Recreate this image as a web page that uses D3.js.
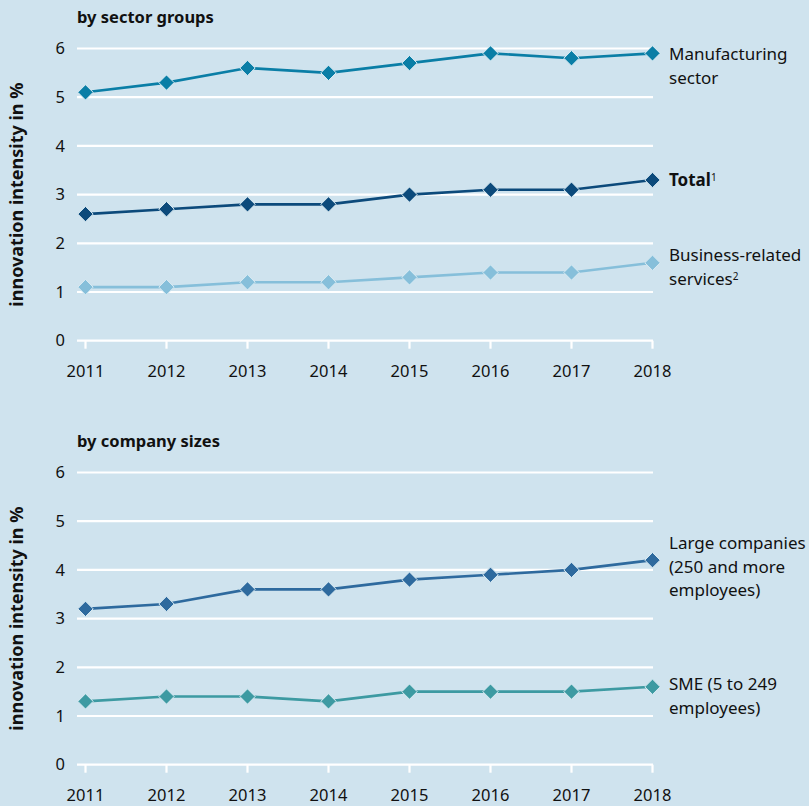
<!DOCTYPE html>
<html>
<head>
<meta charset="utf-8">
<script src="https://cdn.jsdelivr.net/npm/d3@7"></script>
<style>
  html, body { margin: 0; padding: 0; background: #cfe3ee; }
  svg { display: block; font-family: "Noto Sans", "Open Sans", sans-serif; }
</style>
</head>
<body>
<svg id="chart" width="809" height="806"></svg>
<script>
const years = [2011, 2012, 2013, 2014, 2015, 2016, 2017, 2018];
const yTicks = [0, 1, 2, 3, 4, 5, 6];

// top panel: by sector groups
const manufacturing = [5.1, 5.3, 5.6, 5.5, 5.7, 5.9, 5.8, 5.9];
const total = [2.6, 2.7, 2.8, 2.8, 3.0, 3.1, 3.1, 3.3];
const businessServices = [1.1, 1.1, 1.2, 1.2, 1.3, 1.4, 1.4, 1.6];

// bottom panel: by company sizes
const largeCompanies = [3.2, 3.3, 3.6, 3.6, 3.8, 3.9, 4.0, 4.2];
const sme = [1.3, 1.4, 1.4, 1.3, 1.5, 1.5, 1.5, 1.6];

const panels = [
  {
    title: "by sector groups",
    top: 48.5,
    series: [
      { values: manufacturing, color: "#0a7ea6", label: ["Manufacturing", "sector"], labelY: 5.88, bold: false },
      { values: total, color: "#0c4a7b", label: ["Total"], sup: "1", labelY: 3.3, bold: true },
      { values: businessServices, color: "#86bfda", label: ["Business-related", "services"], sup: "2", labelY: 1.75, bold: false }
    ]
  },
  {
    title: "by company sizes",
    top: 472.5,
    series: [
      { values: largeCompanies, color: "#2e6a9e", label: ["Large companies", "(250 and more", "employees)"], labelY: 4.55, bold: false },
      { values: sme, color: "#3d9aa2", label: ["SME (5 to 249", "employees)"], labelY: 1.65, bold: false }
    ]
  }
];

const svg = d3.select("#chart");
const x = d3.scalePoint().domain(years).range([85.5, 652.5]);
const gridLeft = 77, gridRight = 653;
const step = 48.7;

panels.forEach(p => {
  const y = d3.scaleLinear().domain([0, 6]).range([p.top + 6 * step, p.top]);
  const g = svg.append("g");

  g.append("text")
    .attr("x", 77).attr("y", p.top - 26)
    .attr("font-weight", "bold").attr("font-size", 16.5)
    .attr("fill", "#111")
    .text(p.title);

  // grid lines
  g.selectAll("line.grid").data(yTicks).enter().append("line")
    .attr("x1", gridLeft).attr("x2", gridRight)
    .attr("y1", d => y(d)).attr("y2", d => y(d))
    .attr("stroke", "#fff").attr("stroke-width", 2.2);

  // x ticks
  g.selectAll("line.xt").data(years).enter().append("line")
    .attr("x1", d => x(d)).attr("x2", d => x(d))
    .attr("y1", y(0)).attr("y2", y(0) + 8)
    .attr("stroke", "#fff").attr("stroke-width", 2.2);

  g.selectAll("text.yl").data(yTicks).enter().append("text")
    .attr("x", 65).attr("y", d => y(d))
    .attr("dy", "0.35em")
    .attr("text-anchor", "end")
    .attr("font-size", 16.5).attr("fill", "#111")
    .text(d => d);

  g.selectAll("text.xl").data(years).enter().append("text")
    .attr("x", d => x(d)).attr("y", y(0) + 36)
    .attr("text-anchor", "middle")
    .attr("font-size", 16.5).attr("fill", "#111")
    .text(d => d);

  g.append("text")
    .attr("transform", `translate(23,${y(3)}) rotate(-90)`)
    .attr("text-anchor", "middle")
    .attr("font-weight", "bold").attr("font-size", 18)
    .attr("fill", "#111")
    .text("innovation intensity in %");

  const line = d3.line().x((d, i) => x(years[i])).y(d => y(d));
  const diamond = d3.symbol().type(d3.symbolDiamond2).size(150);

  p.series.forEach(s => {
    g.append("path")
      .datum(s.values)
      .attr("d", line)
      .attr("fill", "none")
      .attr("stroke", s.color)
      .attr("stroke-width", 2.6);

    g.selectAll(null).data(s.values).enter().append("path")
      .attr("d", diamond)
      .attr("transform", (d, i) => `translate(${x(years[i])},${y(d)})`)
      .attr("fill", s.color)
      .attr("stroke", "#d9ebf3").attr("stroke-width", 1);

    const lab = g.append("text")
      .attr("x", 669)
      .attr("y", y(s.labelY))
      .attr("font-size", 17)
      .attr("font-weight", s.bold ? "bold" : "normal")
      .attr("fill", "#111");
    s.label.forEach((t, i) => {
      lab.append("tspan").attr("x", 669).attr("dy", i === 0 ? "0.35em" : 23.5).text(t);
      if (i === s.label.length - 1 && s.sup) {
        lab.append("tspan").attr("font-size", 10).attr("dy", -5).attr("font-weight", "normal").text(s.sup);
      }
    });
  });
});
</script>
</body>
</html>
